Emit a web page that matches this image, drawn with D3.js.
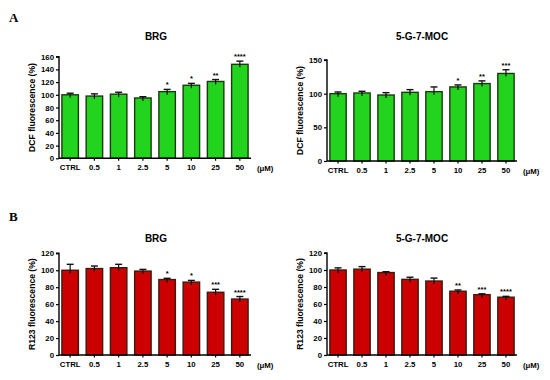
<!DOCTYPE html>
<html>
<head>
<meta charset="utf-8">
<script src="https://cdn.jsdelivr.net/npm/d3@7"></script>
<style>
  body { margin: 0; background: #fff; }
  svg { display: block; font-family: "Liberation Sans", Arial, sans-serif; }
</style>
</head>
<body>
<script>
const doses = ["CTRL", "0.5", "1", "2.5", "5", "10", "25", "50"];

// DCF, BRG
const dcfBrg = [100, 98, 101, 95, 105, 115, 121, 148];
const dcfBrgErr = [2.5, 3.5, 3, 2, 3.5, 3, 3, 5];
const dcfBrgStars = ["", "", "", "", "*", "*", "**", "****"];

// DCF, 5-G-7-MOC
const dcfMoc = [100, 101, 98, 102, 103, 110, 115, 130];
const dcfMocErr = [2.5, 2.5, 3.5, 4, 7, 3, 4, 5.5];
const dcfMocStars = ["", "", "", "", "", "*", "**", "***"];

// R123, BRG
const r123Brg = [100, 102, 103, 99, 89, 86, 74, 66];
const r123BrgErr = [7, 3, 4, 2, 1.5, 2, 3.5, 3];
const r123BrgStars = ["", "", "", "", "*", "*", "***", "****"];

// R123, 5-G-7-MOC
const r123Moc = [100, 101, 97, 89, 87, 75, 71, 68];
const r123MocErr = [2.5, 3, 1, 2.5, 3.5, 1.5, 1, 1];
const r123MocStars = ["", "", "", "", "", "**", "***", "****"];

const svg = d3.select("body").append("svg")
    .attr("width", 550)
    .attr("height", 380);

function panel(opt) {
    const g = svg.append("g");

    const x = d3.scaleBand()
        .domain(doses)
        .range([opt.x0, opt.x1])
        .paddingInner(0.32)
        .paddingOuter(0.12);

    const y = d3.scaleLinear()
        .domain([0, opt.max])
        .range([opt.y0, opt.y1]);

    // bars
    g.selectAll("rect.bar")
        .data(opt.values)
        .join("rect")
        .attr("class", "bar")
        .attr("x", (d, i) => x(doses[i]))
        .attr("width", x.bandwidth())
        .attr("y", d => y(d))
        .attr("height", d => y(0) - y(d))
        .attr("fill", opt.fill)
        .attr("stroke", opt.stroke)
        .attr("stroke-width", 1.4);

    // error bars (upper only)
    const eb = g.selectAll("g.err")
        .data(opt.values)
        .join("g")
        .attr("class", "err")
        .attr("transform", (d, i) => `translate(${x(doses[i]) + x.bandwidth() / 2},0)`);
    eb.append("line")
        .attr("y1", d => y(d) + 3)
        .attr("y2", (d, i) => y(d + opt.err[i]))
        .attr("stroke", "#111")
        .attr("stroke-width", 1.2);
    eb.append("line")
        .attr("x1", -3.5).attr("x2", 3.5)
        .attr("y1", (d, i) => y(d + opt.err[i]))
        .attr("y2", (d, i) => y(d + opt.err[i]))
        .attr("stroke", "#111")
        .attr("stroke-width", 1.4);
    eb.append("text")
        .attr("y", (d, i) => y(d + opt.err[i]) - 2)
        .attr("text-anchor", "middle")
        .attr("font-size", 7.5)
        .attr("font-weight", "bold")
        .text((d, i) => opt.stars[i]);

    // y axis
    const yAxis = d3.axisLeft(y)
        .tickValues(opt.ticks)
        .tickSize(3)
        .tickPadding(2);
    g.append("g")
        .attr("transform", `translate(${opt.x0},0)`)
        .call(yAxis)
        .call(a => a.select(".domain").attr("stroke-width", 1.4).attr("d", `M-3,${y(opt.max)}H0V${y(0)}`))
        .call(a => a.selectAll(".tick line").attr("stroke-width", 1.2))
        .call(a => a.selectAll("text")
            .attr("font-size", 7.8)
            .attr("font-weight", "bold")
            .attr("font-family", "Liberation Sans, Arial, sans-serif"));

    // x axis
    const xAxis = d3.axisBottom(x)
        .tickSize(2.5)
        .tickPadding(3.5);
    g.append("g")
        .attr("transform", `translate(0,${opt.y0})`)
        .call(xAxis)
        .call(a => a.select(".domain").attr("stroke-width", 1.4).attr("d", `M${opt.x0},0H${opt.x1}`))
        .call(a => a.selectAll(".tick line").attr("stroke-width", 1.2))
        .call(a => a.selectAll("text")
            .attr("font-size", 7.8)
            .attr("font-weight", "bold")
            .attr("font-family", "Liberation Sans, Arial, sans-serif"));

    g.append("text")
        .attr("x", opt.x1 + 6)
        .attr("y", opt.y0 + 12.5)
        .attr("font-size", 7.8)
        .attr("font-weight", "bold")
        .text("(\u03bcM)");

    // y title
    g.append("text")
        .attr("transform", `translate(${opt.x0 - 24},${(opt.y0 + opt.y1) / 2}) rotate(-90)`)
        .attr("text-anchor", "middle")
        .attr("font-size", 8.6)
        .attr("font-weight", "bold")
        .text(opt.ylabel);

    // title
    g.append("text")
        .attr("x", opt.tx)
        .attr("y", opt.ty)
        .attr("text-anchor", "middle")
        .attr("font-size", 10)
        .attr("font-weight", "bold")
        .text(opt.title);
}

const green = "#22d41e", greenEdge = "#1a3a10";
const red = "#cc0000", redEdge = "#3e1a10";

panel({ values: dcfBrg, err: dcfBrgErr, stars: dcfBrgStars, max: 160, ticks: d3.range(0, 161, 20),
    x0: 59, x1: 251, y0: 158.3, y1: 56.7, fill: green, stroke: greenEdge,
    ylabel: "DCF fluorescence (%)", title: "BRG", tx: 156, ty: 40 });
panel({ values: dcfMoc, err: dcfMocErr, stars: dcfMocStars, max: 150, ticks: [0, 50, 100, 150],
    x0: 327, x1: 517, y0: 161, y1: 60, fill: green, stroke: greenEdge,
    ylabel: "DCF fluorescence (%)", title: "5-G-7-MOC", tx: 422, ty: 40 });
panel({ values: r123Brg, err: r123BrgErr, stars: r123BrgStars, max: 120, ticks: d3.range(0, 121, 20),
    x0: 59, x1: 251, y0: 355, y1: 253.3, fill: red, stroke: redEdge,
    ylabel: "R123 fluorescence (%)", title: "BRG", tx: 156, ty: 242 });
panel({ values: r123Moc, err: r123MocErr, stars: r123MocStars, max: 120, ticks: d3.range(0, 121, 20),
    x0: 327, x1: 517, y0: 355, y1: 253, fill: red, stroke: redEdge,
    ylabel: "R123 fluorescence (%)", title: "5-G-7-MOC", tx: 422, ty: 242 });

// panel letters
svg.append("text").attr("x", 9).attr("y", 22)
    .attr("font-family", "Liberation Serif, Times New Roman, serif")
    .attr("font-weight", "bold").attr("font-size", 13).text("A");
svg.append("text").attr("x", 9).attr("y", 221)
    .attr("font-family", "Liberation Serif, Times New Roman, serif")
    .attr("font-weight", "bold").attr("font-size", 13).text("B");
</script>
</body>
</html>
